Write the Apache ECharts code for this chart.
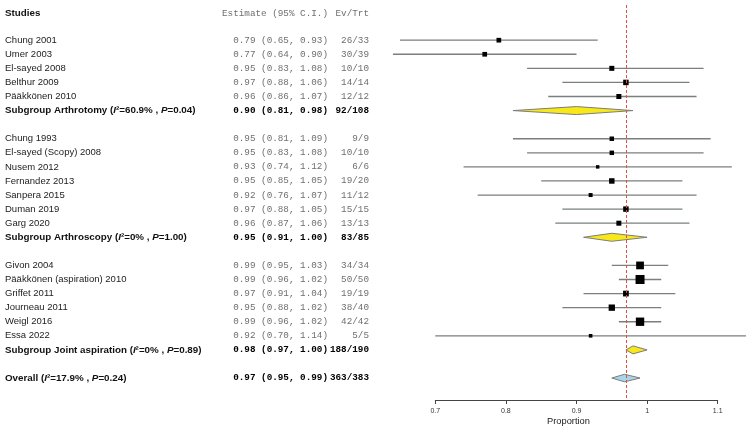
<!DOCTYPE html>
<html><head><meta charset="utf-8">
<script src="https://cdn.jsdelivr.net/npm/echarts@6/dist/echarts.min.js"></script>
<style>html,body{margin:0;padding:0;background:#fff}#c{width:749px;height:432px}</style>
</head><body><div id="c"></div>
<script>
// ---- data ----
const studies = ['Chung 2001','Umer 2003','El-sayed 2008','Belthur 2009','Pääkkönen 2010',
  'Chung 1993','El-sayed (Scopy) 2008','Nusem 2012','Fernandez 2013','Sanpera 2015','Duman 2019','Garg 2020',
  'Givon 2004','Pääkkönen (aspiration) 2010','Griffet 2011','Journeau 2011','Weigl 2016','Essa 2022'];
const studyGroup = [0,0,0,0,0, 1,1,1,1,1,1,1, 2,2,2,2,2,2];
const est = [0.79,0.77,0.95,0.97,0.96, 0.95,0.95,0.93,0.95,0.92,0.97,0.96, 0.99,0.99,0.97,0.95,0.99,0.92];
const lo  = [0.65,0.64,0.83,0.88,0.86, 0.81,0.83,0.74,0.85,0.76,0.88,0.87, 0.95,0.96,0.91,0.88,0.96,0.70];
const hi  = [0.93,0.90,1.08,1.06,1.07, 1.09,1.08,1.12,1.05,1.07,1.05,1.06, 1.03,1.02,1.04,1.02,1.02,1.14];
const events = [26,30,10,14,12, 9,10,6,19,11,15,13, 34,50,19,38,42,5];
const totals = [33,39,10,14,12, 9,10,6,20,12,15,13, 34,50,19,40,42,5];
const weights = [22,22,25,30,25, 20,20,12,30,16,30,25, 60,81,33,40,70,13];
const groupNames = ['Arthrotomy','Arthroscopy','Joint aspiration'];
const groupI2 = ['60.9%','0%','0%'];
const groupP = ['0.04','1.00','0.89'];
const groupEst = [0.90,0.95,0.98];
const groupLo = [0.81,0.91,0.97];
const groupHi = [0.98,1.00,1.00];
const groupEv = [92,83,188];
const groupN = [108,85,190];
const overallEst = 0.968, overallLo = 0.95, overallHi = 0.99;
const overallI2 = '17.9%', overallP = '0.24', overallEv = 363, overallN = 383;
const xTickValues = [0.7,0.8,0.9,1.0,1.1];
const headers = ['Studies','Estimate (95% C.I.)','Ev/Trt'];
const axisTitle = 'Proportion';

// ---- build rows ----
const fmt = (e,l,h) => `${e.toFixed(2)} (${l.toFixed(2)}, ${h.toFixed(2)})`;
const studyRows = [], diamondRows = [], textRows = [];
let r = 0;
groupNames.forEach((g, gi) => {
  studies.forEach((s, i) => {
    if (studyGroup[i] !== gi) return;
    studyRows.push([est[i], lo[i], hi[i], r, weights[i]]);
    textRows.push({row: r, label: s, est: fmt(est[i], lo[i], hi[i]), ev: events[i] + '/' + totals[i], bold: false});
    r++;
  });
  diamondRows.push([groupEst[gi], groupLo[gi], groupHi[gi], r, 0]);
  textRows.push({row: r, label: `{b|Subgroup ${g} (}{bi|I}{b|²=${groupI2[gi]} , }{bi|P}{b|=${groupP[gi]})}`,
    est: fmt(groupEst[gi], groupLo[gi], groupHi[gi]), ev: groupEv[gi] + '/' + groupN[gi], bold: true});
  r += 2;
});
diamondRows.push([overallEst, overallLo, overallHi, r, 1]);
textRows.push({row: r, label: `{b|Overall (}{bi|I}{b|²=${overallI2} , }{bi|P}{b|=${overallP})}`,
  est: fmt(overallEst, overallLo, overallHi), ev: overallEv + '/' + overallN, bold: true});
textRows.push({row: -1.9, label: `{b|${headers[0]}}`, est: headers[1], ev: headers[2], bold: false, header: true});

const SANS = '"Liberation Sans", Arial, sans-serif';
const MONO = '"Liberation Mono", "Courier New", monospace';
const rich = {
  b: {fontFamily: SANS, fontSize: 9.8, fontWeight: 'bold', fill: '#111', color: '#111'},
  bi: {fontFamily: SANS, fontSize: 9.8, fontWeight: 'bold', fontStyle: 'italic', fill: '#111', color: '#111'}
};

const chart = echarts.init(document.getElementById('c'), null, {renderer: 'canvas'});
chart.setOption({
  animation: false,
  grid: {left: 435.3, right: 31.3, top: 5, bottom: 32},
  xAxis: {
    type: 'value', min: 0.7, max: 1.1, interval: 0.1, position: 'bottom',
    splitLine: {show: false},
    axisLine: {show: true, onZero: false, lineStyle: {color: '#444', width: 1}},
    axisTick: {show: true, length: 4, lineStyle: {color: '#444'}},
    axisLabel: {fontSize: 7, color: '#333', margin: 8, fontFamily: SANS,
      formatter: v => String(+v.toFixed(2)),
      customValues: xTickValues},
  },
  yAxis: {type: 'value', inverse: true, min: -2.5, max: 25.56, show: false},
  graphic: [{type: 'text', left: 568 - 21, top: 417,
    style: {text: axisTitle, font: '9.3px ' + SANS, fill: '#222'}}],
  series: [
    {
      type: 'custom', clip: false, data: studyRows,
      renderItem(params, api) {
        const e = api.value(0), l = api.value(1), h = api.value(2), row = api.value(3), w = api.value(4);
        const pl = api.coord([l, row]), ph = api.coord([h, row]), pe = api.coord([e, row]);
        const s = Math.sqrt(w);
        return {type: 'group', children: [
          {type: 'line', shape: {x1: pl[0], y1: pl[1], x2: ph[0], y2: ph[1]}, style: {stroke: '#7a7f7f', lineWidth: 1.3}},
          {type: 'rect', shape: {x: pe[0] - s / 2, y: pe[1] - s / 2, width: s, height: s}, style: {fill: '#000'}}
        ]};
      },
      markLine: {
        silent: true, symbol: 'none', label: {show: false},
        lineStyle: {color: '#e0503c', type: [3, 2], width: 1},
        data: [{xAxis: overallEst}]
      }
    },
    {
      type: 'custom', clip: false, data: diamondRows,
      renderItem(params, api) {
        const e = api.value(0), l = api.value(1), h = api.value(2), row = api.value(3), kind = api.value(4);
        const pl = api.coord([l, row]), ph = api.coord([h, row]), pe = api.coord([e, row]);
        const hh = kind ? 3.8 : 4;
        return {type: 'polygon',
          shape: {points: [[pl[0], pl[1]], [pe[0], pe[1] - hh], [ph[0], ph[1]], [pe[0], pe[1] + hh]]},
          style: {fill: kind ? '#a8d5ea' : '#f7e81a', stroke: '#7c7c7c', lineWidth: 1}};
      }
    },
    {
      type: 'custom', clip: false, data: textRows.map(t => [0.7, t.row]),
      renderItem(params, api) {
        const t = textRows[params.dataIndex];
        const y = api.coord([0.7, t.row])[1];
        const monoColor = t.bold ? '#000' : '#6f6f6f';
        return {type: 'group', children: [
          {type: 'text', style: {x: 5, y: y, text: t.label, rich: rich, align: 'left', verticalAlign: 'middle',
            fontFamily: SANS, fontSize: 9.5, fill: '#222'}},
          {type: 'text', style: {x: 328, y: y, text: t.est, align: 'right', verticalAlign: 'middle',
            fontFamily: MONO, fontSize: 9.3, fontWeight: t.bold ? 'bold' : 'normal', fill: monoColor}},
          {type: 'text', style: {x: 369, y: y, text: t.ev, align: 'right', verticalAlign: 'middle',
            fontFamily: MONO, fontSize: 9.3, fontWeight: t.bold ? 'bold' : 'normal', fill: monoColor}}
        ]};
      }
    }
  ]
});
</script></body></html>
